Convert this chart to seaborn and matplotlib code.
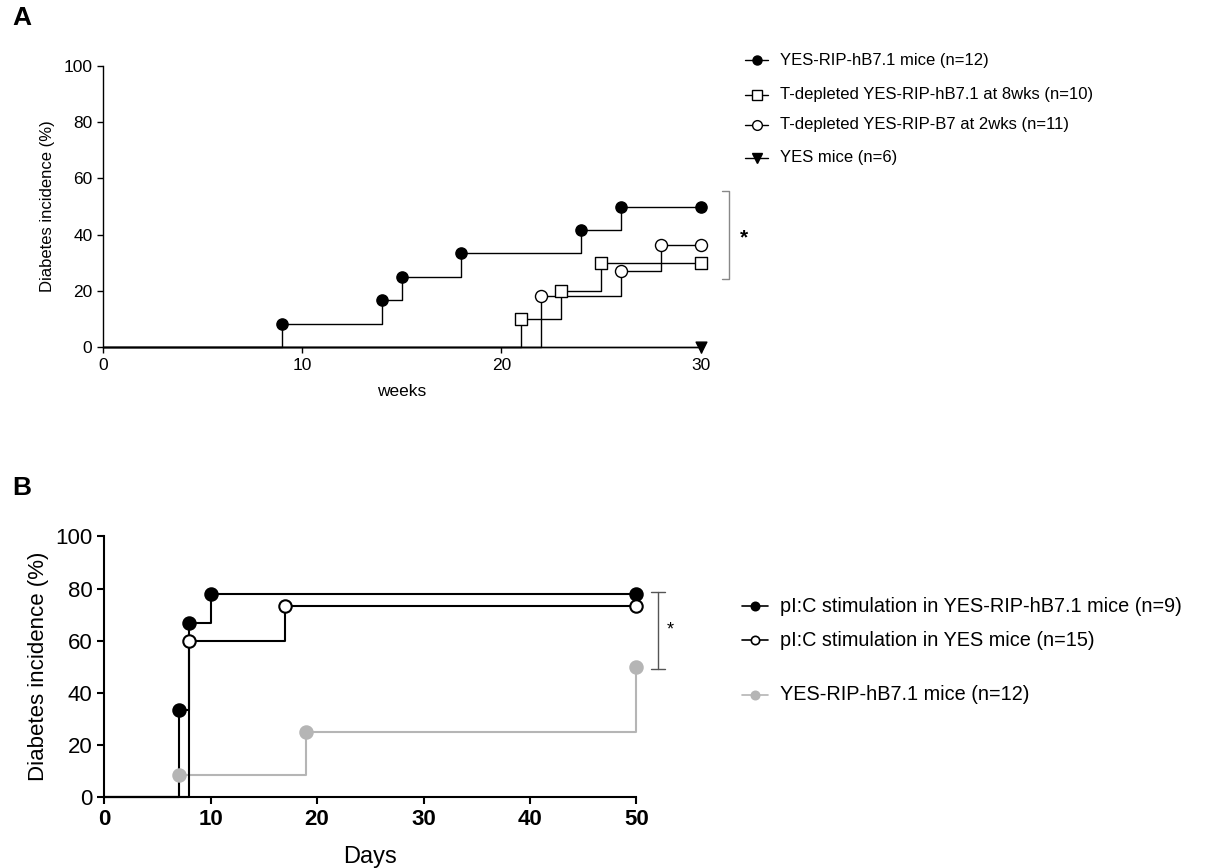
import numpy as np
import pandas as pd
import matplotlib
matplotlib.use("Agg")
import matplotlib.pyplot as plt
from matplotlib.lines import Line2D
import seaborn as sns

# Panel A: diabetes incidence over weeks
a_labels = ["YES-RIP-hB7.1 mice (n=12)",
            "T-depleted YES-RIP-hB7.1 at 8wks (n=10)",
            "T-depleted YES-RIP-B7 at 2wks (n=11)",
            "YES mice (n=6)"]
a1_weeks = [0, 9, 14, 15, 18, 24, 26, 30]
a1_pct = [0, 8.33, 16.67, 25.0, 33.33, 41.67, 50.0, 50.0]
a2_weeks = [0, 21, 23, 25, 30]
a2_pct = [0, 10.0, 20.0, 30.0, 30.0]
a3_weeks = [0, 22, 26, 28, 30]
a3_pct = [0, 18.18, 27.27, 36.36, 36.36]
a4_weeks = [0, 30]
a4_pct = [0, 0]

# Panel B: diabetes incidence over days
b_labels = ["pI:C stimulation in YES-RIP-hB7.1 mice (n=9)",
            "pI:C stimulation in YES mice (n=15)",
            "YES-RIP-hB7.1 mice (n=12)"]
b1_days = [0, 7, 8, 10, 50]
b1_pct = [0, 33.33, 66.67, 77.78, 77.78]
b2_days = [0, 8, 17, 50]
b2_pct = [0, 60.0, 73.33, 73.33]
b3_days = [0, 7, 19, 50]
b3_pct = [0, 8.33, 25.0, 50.0]

sns.set_style("ticks")
plt.rcParams["font.family"] = ["Liberation Sans", "DejaVu Sans"]
plt.rcParams["text.color"] = "black"
plt.rcParams["axes.labelcolor"] = "black"
plt.rcParams["xtick.color"] = "black"
plt.rcParams["ytick.color"] = "black"
plt.rcParams["axes.edgecolor"] = "black"
plt.rcParams["axes.linewidth"] = 1.0
plt.rcParams["xtick.major.size"] = 4
plt.rcParams["ytick.major.size"] = 4

NARROW = ["Liberation Sans Narrow", "Liberation Sans", "DejaVu Sans"]
GRAY = "#b5b5b5"

fig = plt.figure(figsize=(12.1, 8.68), dpi=100)
axA = fig.add_axes([0.085, 0.600, 0.494, 0.324])
axB = fig.add_axes([0.086, 0.082, 0.440, 0.300])


def km(ax, x, y, color, marker, face, lw, ms, first_mark=1):
    df = pd.DataFrame({"x": x, "y": y})
    sns.lineplot(data=df, x="x", y="y", ax=ax, color=color, lw=lw,
                 drawstyle="steps-post", estimator=None, sort=False,
                 clip_on=False, zorder=2)
    pts = df.iloc[first_mark:]
    sns.scatterplot(data=pts, x="x", y="y", ax=ax, marker=marker, s=ms,
                    facecolor=face, edgecolor=color, linewidth=lw,
                    clip_on=False, zorder=3)


# ---- Panel A
km(axA, a4_weeks, a4_pct, "black", "v", "black", 1.0, 60, first_mark=-1)
km(axA, a1_weeks, a1_pct, "black", "o", "black", 1.0, 65)
km(axA, a2_weeks, a2_pct, "black", "s", "white", 1.0, 65)
km(axA, a3_weeks, a3_pct, "black", "o", "white", 1.0, 75)

axA.set_xlim(0, 30)
axA.set_ylim(0, 100)
axA.set_xticks([0, 10, 20, 30])
axA.set_yticks([0, 20, 40, 60, 80, 100])
axA.tick_params(labelsize=12.5, width=1.0)
for t in axA.get_xticklabels() + axA.get_yticklabels():
    t.set_family(NARROW)
axA.set_xlabel("weeks", fontsize=12.5, family=NARROW, labelpad=8)
axA.set_ylabel("Diabetes incidence (%)", fontsize=12, labelpad=6)
sns.despine(ax=axA)

# significance bracket A
axA.plot([31.05, 31.45, 31.45, 31.05], [55.5, 55.5, 24.2, 24.2],
         color="#888888", lw=1.0, clip_on=False)
axA.text(32.2, 39, "*", fontsize=15, fontweight="bold", ha="center",
         va="center")

# ---- Panel B
km(axB, b3_days, b3_pct, GRAY, "o", GRAY, 1.5, 80)
km(axB, b1_days, b1_pct, "black", "o", "black", 1.5, 80)
km(axB, b2_days, b2_pct, "black", "o", "white", 1.5, 80)

axB.set_xlim(0, 50)
axB.set_ylim(0, 100)
axB.set_xticks([0, 10, 20, 30, 40, 50])
axB.set_yticks([0, 20, 40, 60, 80, 100])
axB.tick_params(labelsize=16, width=1.5, length=5)
for t in axB.get_xticklabels():
    t.set_fontweight("bold")
    t.set_family(NARROW)
for t in axB.get_yticklabels():
    t.set_family(NARROW)
for s in axB.spines.values():
    s.set_linewidth(1.5)
axB.set_xlabel("Days", fontsize=17, family=NARROW, labelpad=12)
axB.set_ylabel("Diabetes incidence (%)", fontsize=16, labelpad=4)
sns.despine(ax=axB)

# significance bracket B
axB.plot([51.4, 52.7], [78.5, 78.5], color="#555555", lw=1.0, clip_on=False)
axB.plot([51.4, 52.7], [49, 49], color="#555555", lw=1.0, clip_on=False)
axB.plot([52.05, 52.05], [78.5, 49], color="#555555", lw=1.0, clip_on=False)
axB.text(53.2, 64, "*", fontsize=13, ha="center", va="center")

# ---- legends drawn in figure pixels
W, H = 1210, 868


def legend_row(x0, x1, ypix, marker, face, edge, ms, lw, text, fs):
    xs = [x0 / W, x1 / W]
    yy = 1 - ypix / H
    fig.add_artist(Line2D(xs, [yy, yy], color=edge, lw=lw))
    fig.add_artist(Line2D([(x0 + x1) / 2 / W], [yy], marker=marker,
                          markersize=ms, markerfacecolor=face,
                          markeredgecolor=edge, markeredgewidth=lw,
                          linestyle="none"))
    fig.text((x1 + 12) / W, yy, text, fontsize=fs, va="center", ha="left")


a_rows = [(60, "o", "black", "black", 6.5),
          (95, "s", "white", "black", 6.5),
          (125, "o", "white", "black", 7),
          (158, "v", "black", "black", 6.5)]
for (yp, mk, fc, ec, ms), lab in zip(a_rows, a_labels):
    legend_row(745, 768, yp, mk, fc, ec, ms, 1.0, lab, 12)

b_rows = [(606, "o", "black", "black", 6),
          (640, "o", "white", "black", 6),
          (695, "o", GRAY, GRAY, 6)]
for (yp, mk, fc, ec, ms), lab in zip(b_rows, b_labels):
    legend_row(742, 768, yp, mk, fc, ec, ms, 1.2, lab, 14.3)

fig.text(12 / W, 1 - 18 / H, "A", fontsize=19, fontweight="bold",
         va="center", ha="left")
fig.text(12 / W, 1 - 488 / H, "B", fontsize=19, fontweight="bold",
         va="center", ha="left")

fig.savefig("out.png", dpi=100)
